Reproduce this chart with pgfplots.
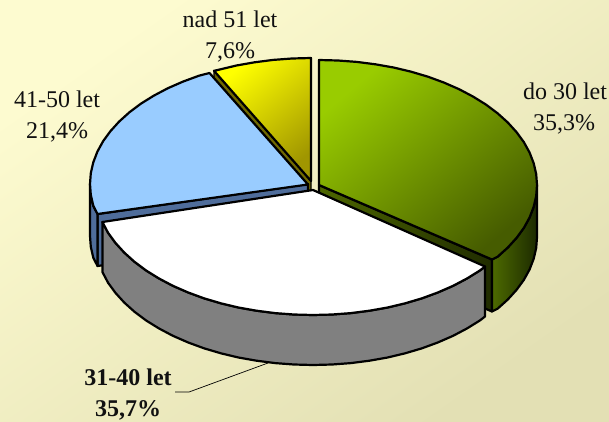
\documentclass[border=0pt]{standalone}
\usepackage{fontspec}
\setmainfont{Liberation Serif}
\usepackage{pgfplots}
\pgfplotsset{compat=1.18}

\definecolor{bgtop}{HTML}{FDFBD0}
\definecolor{bgbot}{HTML}{E3E0B4}
\definecolor{txt}{HTML}{111111}

\newcommand{\lbl}[3]{\node[anchor=base,inner sep=0pt,text=txt,font=\fontsize{24}{28}\selectfont] at (axis cs:#1,#2) {#3};}

\begin{document}
\begin{tikzpicture}
\begin{axis}[
  width=609pt, height=421pt, scale only axis,
  xmin=0, xmax=609, ymin=0, ymax=421, y dir=reverse,
  hide axis, clip=false,
  every axis plot/.append style={mark=none, line join=round, line width=2.2pt}
]
% background
\addplot[draw=none, top color=bgtop, bottom color=bgbot, shading angle=35]
  coordinates {(0,0)(609,0)(609,421)(0,421)} --cycle;

% 7,6 % slice: inner face, then top
\addplot[draw=black, line width=1.2pt, fill={rgb,255:red,112;green,105;blue,0}]
  coordinates {(214,70.8)(311,181)(311,235)(214,123.4)} --cycle;
\addplot[draw=black, top color=yellow, bottom color={rgb,255:red,160;green,150;blue,0}, shading angle=40]
  coordinates {(311,58)(292,58.5)(273.2,59.9)(254.6,62.3)(236.4,65.5)(218.9,69.7)(214,70.8)(311,181)} --cycle;

% 21,4 % slice
\addplot[draw=black, fill={rgb,255:red,79;green,109;blue,155}]
  coordinates {(97.5,214)(308,184)(308,236)(97.5,266)} --cycle;
\addplot[draw=black, fill={rgb,255:red,79;green,109;blue,155}]
  coordinates {(90,184)(90.8,194.9)(93.3,205.7)(97.5,214)(97.5,266)(93.3,257.7)(90.8,246.9)(90,236)} --cycle;
\addplot[draw=black, fill={rgb,255:red,153;green,204;blue,255}]
  coordinates {(308,184.5)(209.5,73)(199,75.7)(183,81.6)(167.9,88.2)(153.9,95.6)(141,103.6)(129.4,112.3)(119.2,121.5)(110.4,131.2)(103.1,141.2)(97.4,151.6)(93.3,162.3)(90.8,173.1)(90,184)(90.8,194.9)(93.3,205.7)(97.5,214)} --cycle;

% 35,3 % slice
\addplot[draw=black, left color={rgb,255:red,77;green,102;blue,0}, right color={rgb,255:red,32;green,44;blue,0}]
  coordinates {(319,185)(492,259.5)(492,311.5)(319,237)} --cycle;
\addplot[draw=black, left color={rgb,255:red,77;green,106;blue,0}, right color={rgb,255:red,28;green,42;blue,0}]
  coordinates {(492,259.5)(497.6,256.7)(507.8,247.5)(516.6,237.8)(523.9,227.8)(529.6,217.4)(533.7,206.7)(536.2,195.9)(537,185)(537,237)(536.2,247.9)(533.7,258.7)(529.6,269.4)(523.9,279.8)(516.6,289.8)(507.8,299.5)(497.6,308.7)(492,311.5)} --cycle;
\addplot[draw=black, top color={rgb,255:red,153;green,204;blue,0}, bottom color={rgb,255:red,70;green,92;blue,0}, shading angle=40]
  coordinates {(319,60)(338,60.5)(356.8,61.9)(375.4,64.3)(393.6,67.5)(411.1,71.7)(428,76.7)(444,82.6)(459.1,89.2)(473.1,96.6)(486,104.6)(497.6,113.3)(507.8,122.5)(516.6,132.2)(523.9,142.2)(529.6,152.6)(533.7,163.3)(536.2,174.1)(537,185)(536.2,195.9)(533.7,206.7)(529.6,217.4)(523.9,227.8)(516.6,237.8)(507.8,247.5)(497.6,256.7)(492,259.5)(319,185)} --cycle;

% 35,7 % slice
\addplot[draw=black, fill={rgb,255:red,128;green,128;blue,128}]
  coordinates {(485,266.5)(480,270.4)(467.1,278.4)(453.1,285.8)(438,292.4)(422,298.3)(405.1,303.3)(387.6,307.5)(369.4,310.7)(350.8,313.1)(332,314.5)(313,315)(294,314.5)(275.2,313.1)(256.6,310.7)(238.4,307.5)(220.9,303.3)(204,298.3)(188,292.4)(172.9,285.8)(158.9,278.4)(146,270.4)(134.4,261.7)(124.2,252.5)(115.4,242.8)(108.1,232.8)(102.4,222)(102.4,272)(108.1,282.8)(115.4,292.8)(124.2,302.5)(134.4,311.7)(146,320.4)(158.9,328.4)(172.9,335.8)(188,342.4)(204,348.3)(220.9,353.3)(238.4,357.5)(256.6,360.7)(275.2,363.1)(294,364.5)(313,365)(332,364.5)(350.8,363.1)(369.4,360.7)(387.6,357.5)(405.1,353.3)(422,348.3)(438,342.4)(453.1,335.8)(467.1,328.4)(480,320.4)(485,316.5)} --cycle;
\addplot[draw=black, fill=white]
  coordinates {(313,190)(485,266.5)(480,270.4)(467.1,278.4)(453.1,285.8)(438,292.4)(422,298.3)(405.1,303.3)(387.6,307.5)(369.4,310.7)(350.8,313.1)(332,314.5)(313,315)(294,314.5)(275.2,313.1)(256.6,310.7)(238.4,307.5)(220.9,303.3)(204,298.3)(188,292.4)(172.9,285.8)(158.9,278.4)(146,270.4)(134.4,261.7)(124.2,252.5)(115.4,242.8)(108.1,232.8)(102.4,222)} --cycle;

% leader line
\addplot[draw=black, line width=0.7pt] coordinates {(175,392)(189,392)(268,363)};

\lbl{565}{99}{do 30 let}
\lbl{564}{130}{35,3\%}
\lbl{230}{27}{nad 51 let}
\lbl{230}{58}{7,6\%}
\lbl{57}{107}{41-50 let}
\lbl{57}{138}{21,4\%}
\lbl{128}{385}{\textbf{31-40 let}}
\lbl{128}{416}{\textbf{35,7\%}}
\end{axis}
\end{tikzpicture}
\end{document}
